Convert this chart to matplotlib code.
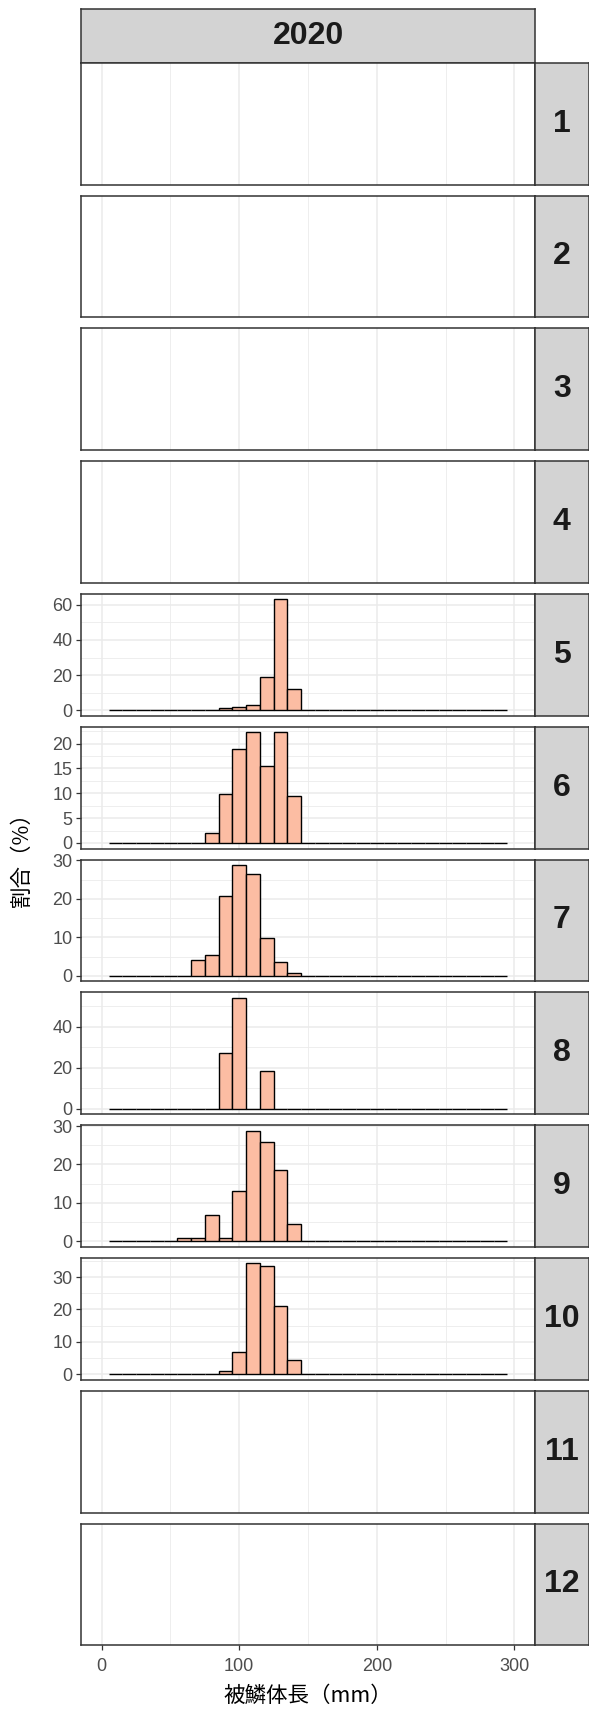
import numpy as np
import matplotlib
matplotlib.use('Agg')
import matplotlib.pyplot as plt

# size classes (mm), 10 mm bins centred on 10..290
bins = list(range(10, 300, 10))
months = list(range(1, 13))
year = '2020'

# percentage per size class, only months with samples
m5_len = [90, 100, 110, 120, 130, 140]
m5_pct = [1.0, 1.9, 3.0, 19.0, 63.1, 12.2]
m6_len = [80, 90, 100, 110, 120, 130, 140]
m6_pct = [2.0, 9.8, 19.0, 22.3, 15.4, 22.3, 9.4]
m7_len = [70, 80, 90, 100, 110, 120, 130, 140]
m7_pct = [4.0, 5.5, 20.8, 28.8, 26.4, 9.9, 3.6, 0.8]
m8_len = [90, 100, 120]
m8_pct = [27.3, 54.0, 18.2]
m9_len = [60, 70, 80, 90, 100, 110, 120, 130, 140]
m9_pct = [1.0, 1.0, 6.8, 1.0, 13.2, 28.8, 25.9, 18.6, 4.5]
m10_len = [90, 100, 110, 120, 130, 140]
m10_pct = [1.1, 7.0, 34.2, 33.3, 21.0, 4.3]

data = {5: (m5_len, m5_pct), 6: (m6_len, m6_pct), 7: (m7_len, m7_pct),
        8: (m8_len, m8_pct), 9: (m9_len, m9_pct), 10: (m10_len, m10_pct)}
yticks = {5: [0, 20, 40, 60], 6: [0, 5, 10, 15, 20], 7: [0, 10, 20, 30],
          8: [0, 20, 40], 9: [0, 10, 20, 30], 10: [0, 10, 20, 30]}

W, H = 589, 1711
fig = plt.figure(figsize=(W / 100, H / 100), dpi=100)

def box(l, t, w, h):
    return [l / W, 1 - (t + h) / H, w / W, h / H]

num_font = 'Liberation Sans'
cjk = ['Noto Sans CJK JP', 'DejaVu Sans']
border = '#333333'
grid = '#EBEBEB'
strip_bg = '#D3D3D3'

px_l, px_r = 81, 535
top0, ph, step = 62.7, 121.8, 132.8

def strip(l, t, w, h, label):
    s = fig.add_axes(box(l, t, w, h))
    s.set_facecolor(strip_bg)
    s.set_xticks([])
    s.set_yticks([])
    for sp in s.spines.values():
        sp.set_color(border)
        sp.set_linewidth(1.1)
    s.text(0.5, 0.5, label, transform=s.transAxes, ha='center', va='center',
           fontsize=23, fontweight='bold', family=num_font, color='#1A1A1A')

strip(px_l, 9.3, px_r - px_l, top0 - 9.3, year)

for i, m in enumerate(months):
    t = top0 + i * step
    ax = fig.add_axes(box(px_l, t, px_r - px_l, ph))
    ax.set_xlim(-15, 315)
    ax.set_xticks([0, 100, 200, 300])
    ax.set_xticks([50, 150, 250], minor=True)
    ax.grid(True, which='major', axis='x', color=grid, lw=1.1, zorder=0)
    ax.grid(True, which='minor', axis='x', color=grid, lw=0.6, zorder=0)
    ax.set_axisbelow(True)
    if m in data:
        lens, pct = data[m]
        vals = np.zeros(len(bins))
        for L, p in zip(lens, pct):
            vals[bins.index(L)] = p
        ax.bar(bins, vals, width=10, color='#FCBDA3', edgecolor='black',
               linewidth=1.0, zorder=2)
        top = max(pct)
        yt = yticks[m]
        d = yt[1] - yt[0]
        ax.set_yticks(yt)
        ax.set_yticks([v + d / 2 for v in [yt[0] - d] + yt], minor=True)
        ax.set_ylim(-0.05 * top, 1.05 * top)
        ax.grid(True, which='major', axis='y', color=grid, lw=1.1, zorder=0)
        ax.grid(True, which='minor', axis='y', color=grid, lw=0.6, zorder=0)
        ax.tick_params(axis='y', which='major', length=3.5, width=0.9,
                       color=border, pad=2.5, labelsize=13, labelcolor='#4D4D4D')
        for lb in ax.get_yticklabels():
            lb.set_family(num_font)
    else:
        ax.set_ylim(0, 1)
        ax.set_yticks([])
    ax.tick_params(axis='y', which='minor', length=0)
    ax.tick_params(axis='x', which='minor', length=0)
    if m == months[-1]:
        ax.tick_params(axis='x', which='major', length=3.5, width=0.9,
                       color=border, pad=6, labelsize=13, labelcolor='#4D4D4D')
        for lb in ax.get_xticklabels():
            lb.set_family(num_font)
    else:
        ax.tick_params(axis='x', which='major', length=0, labelbottom=False)
    for sp in ax.spines.values():
        sp.set_color(border)
        sp.set_linewidth(1.1)
    strip(px_r, t, 53.5, ph, str(m))

fig.text((px_l + px_r) / 2 / W, 1 - 1696 / H, '被鱗体長（mm）', ha='center',
         va='center', fontsize=15.5, family=cjk, color='black')
fig.text(22 / W, 1 - ((top0 + 11 * step + ph + top0) / 2) / H, '割合（%）',
         ha='center', va='center', rotation=90, fontsize=15.5, family=cjk,
         color='black')

fig.savefig('out.png', dpi=100)
